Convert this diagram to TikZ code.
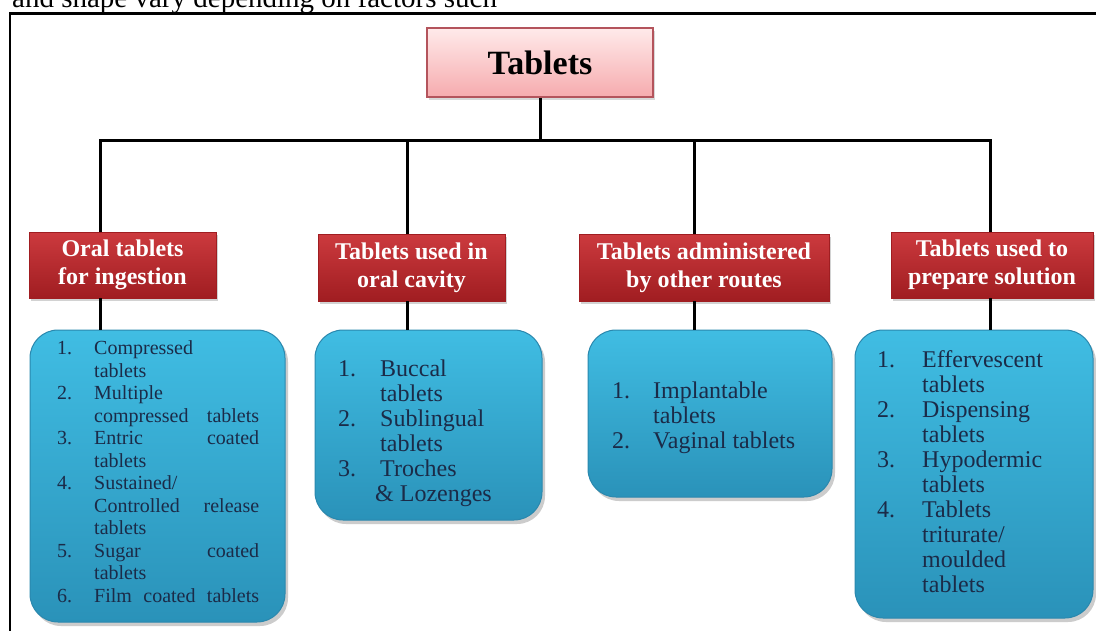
\documentclass[tikz,border=0pt]{standalone}
\usepackage{fontspec}
\setmainfont{Liberation Serif}
\usetikzlibrary{shadows}
\definecolor{navy}{HTML}{1B2B48}
\definecolor{redtop}{HTML}{CC3A3E}
\definecolor{redbot}{HTML}{A01D21}
\definecolor{bluetop}{HTML}{40BDE3}
\definecolor{bluebot}{HTML}{2A92B9}
\definecolor{blueedge}{HTML}{2A88AE}
\definecolor{pinktop}{HTML}{FFEAEA}
\definecolor{pinkbot}{HTML}{F6ABAE}
\definecolor{pinkedge}{HTML}{B4545C}
\tikzset{
  conn/.style={line width=3pt, black},
  rootbox/.style={draw=pinkedge, line width=2pt, top color=pinktop, bottom color=pinkbot,
    inner sep=0pt, font=\fontsize{34}{38}\selectfont\bfseries, text=black,
    drop shadow={shadow xshift=2pt, shadow yshift=-3pt, opacity=.3}},
  catbox/.style={draw=redbot, line width=.5pt, top color=redtop, bottom color=redbot,
    inner sep=0pt, align=center, text=white, font=\fontsize{24}{28}\selectfont\bfseries,
    drop shadow={shadow xshift=2pt, shadow yshift=-3pt, opacity=.35}},
  listbox/.style={draw=blueedge, line width=1pt, top color=bluetop, bottom color=bluebot,
    rounded corners=28pt, inner sep=0pt,
    drop shadow={shadow xshift=3pt, shadow yshift=-4pt, opacity=.4}},
  listtext/.style={inner sep=0pt, anchor=west, text=navy},
}
\begin{document}
\begin{tikzpicture}[x=1pt,y=-1pt]
\clip (0,0) rectangle (1096,630);
\fill[white] (0,0) rectangle (1096,630);
% page text and frame
\node[anchor=base west, inner sep=0pt, font=\fontsize{29}{30}\selectfont] (caption) at (12,7) {and shape vary depending on factors such};
\draw[line width=2.5pt] (10,700) -- (10,13.5) -- (1200,13.5);

% root
\node[rootbox, minimum width=226, minimum height=69] (root) at (540,62.5) {Tablets};

% categories
\node[catbox, minimum width=187, minimum height=66] (r1) at (122.5,265) {Oral tablets\\for ingestion};
\node[catbox, minimum width=187, minimum height=67] (r2) at (411.5,267.5) {Tablets used in\\oral cavity};
\node[catbox, minimum width=250, minimum height=67] (r3) at (704,267.5) {Tablets administered\\by other routes};
\node[catbox, minimum width=202, minimum height=66] (r4) at (992,265) {Tablets used to\\prepare solution};

% list boxes
\node[listbox, minimum width=255, minimum height=292] (b1) at (157.5,476) {};
\node[listbox, minimum width=227, minimum height=190] (b2) at (428.5,425) {};
\node[listbox, minimum width=244, minimum height=167] (b3) at (710,413.5) {};
\node[listbox, minimum width=238, minimum height=288] (b4) at (974,474) {};

% connectors
\coordinate (h1) at (100,140);
\coordinate (h2) at (407,140);
\coordinate (h3) at (694,140);
\coordinate (h4) at (990,140);
\coordinate (hc) at (540,140);
\draw[conn] (root.south) -- (hc);
\draw[conn, line cap=rect] (h1) -- (h4);
\draw[conn] (h1) -- (r1.north -| h1);
\draw[conn] (h2) -- (r2.north -| h2);
\draw[conn] (h3) -- (r3.north -| h3);
\draw[conn] (h4) -- (r4.north -| h4);
\draw[conn] (r1.south -| h1) -- (b1.north -| h1);
\draw[conn] (r2.south -| h2) -- (b2.north -| h2);
\draw[conn] (r3.south -| h3) -- (b3.north -| h3);
\draw[conn] (r4.south -| h4) -- (b4.north -| h4);

% list texts
\node[listtext, font=\fontsize{20}{22.5}\selectfont] (t1) at (57,474) {%
\renewcommand\arraystretch{1}%
\begin{tabular}{@{}p{37pt}@{}l@{}}
1. & Compressed\\
   & tablets\\
2. & Multiple\\
   & \makebox[165pt][s]{compressed\hfill tablets}\\
3. & \makebox[165pt][s]{Entric\hfill coated}\\
   & tablets\\
4. & Sustained/\\
   & \makebox[165pt][s]{Controlled\hfill release}\\
   & tablets\\
5. & \makebox[165pt][s]{Sugar\hfill coated}\\
   & tablets\\
6. & \makebox[165pt][s]{Film\hfill coated\hfill tablets}
\end{tabular}};

\node[listtext, font=\fontsize{24}{25}\selectfont] (t2) at (338,434) {%
\renewcommand\arraystretch{1}%
\begin{tabular}{@{}p{42pt}@{}l@{}}
1. & Buccal\\
   & tablets\\
2. & Sublingual\\
   & tablets\\
3. & Troches\\
   & \hspace{-5pt}\& Lozenges
\end{tabular}};

\node[listtext, font=\fontsize{24}{25}\selectfont] (t3) at (612,418) {%
\renewcommand\arraystretch{1}%
\begin{tabular}{@{}p{41pt}@{}l@{}}
1. & Implantable\\
   & tablets\\
2. & Vaginal tablets
\end{tabular}};

\node[listtext, font=\fontsize{24}{25}\selectfont] (t4) at (877,475) {%
\renewcommand\arraystretch{1}%
\begin{tabular}{@{}p{45pt}@{}l@{}}
1. & Effervescent\\
   & tablets\\
2. & Dispensing\\
   & tablets\\
3. & Hypodermic\\
   & tablets\\
4. & Tablets\\
   & triturate/\\
   & moulded\\
   & tablets
\end{tabular}};
\end{tikzpicture}
\end{document}
